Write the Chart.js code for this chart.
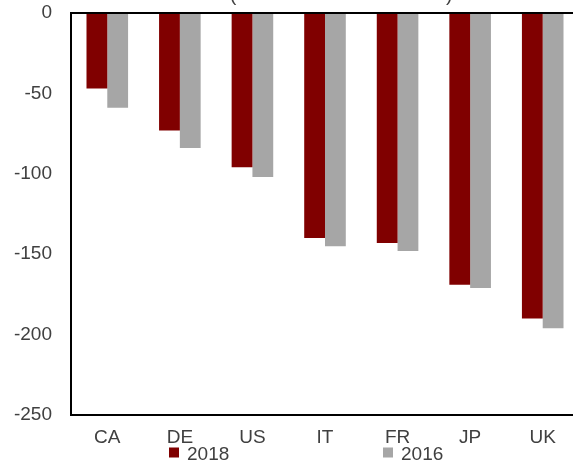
<!DOCTYPE html>
<html>
<head>
<meta charset="utf-8">
<script src="https://cdn.jsdelivr.net/npm/chart.js@4/dist/chart.umd.min.js"></script>
<style>
  html, body { margin: 0; padding: 0; overflow: hidden; background: #fff; }
  #wrap { position: absolute; left: 0; top: 0; width: 585px; height: 460px; }
</style>
</head>
<body>
<div id="wrap"><canvas id="c"></canvas></div>
<script>
const categories = ['CA', 'DE', 'US', 'IT', 'FR', 'JP', 'UK'];
const values2018 = [-47, -73, -96, -140, -143, -169, -190];
const values2016 = [-59, -84, -102, -145, -148, -171, -196];
const yTickValues = [0, -50, -100, -150, -200, -250];
const seriesNames = ['2018', '2016'];
const seriesColors = ['#800000', '#a6a6a6'];

const FONT = "'Liberation Sans', Arial, sans-serif";
const TEXT = '#404040';

const framePlugin = {
  id: 'frame',
  afterDatasetsDraw(chart) {
    const { ctx, chartArea: a } = chart;
    ctx.save();
    ctx.strokeStyle = '#000';
    ctx.lineWidth = 2;
    ctx.strokeRect(a.left, a.top, a.right - a.left, a.bottom - a.top);
    ctx.restore();
  }
};

const legendPlugin = {
  id: 'customLegend',
  afterDraw(chart) {
    const ctx = chart.ctx;
    const starts = [169, 383];
    ctx.save();
    ctx.font = '19px ' + FONT;
    ctx.textBaseline = 'alphabetic';
    chart.data.datasets.forEach((ds, i) => {
      const x = starts[i];
      ctx.fillStyle = ds.backgroundColor;
      ctx.fillRect(x, 447.5, 10, 10);
      ctx.fillStyle = TEXT;
      ctx.fillText(ds.label, x + 18, 460);
    });
    ctx.restore();
  }
};

const titlePlugin = {
  id: 'cutTitle',
  afterDraw(chart) {
    const ctx = chart.ctx;
    ctx.save();
    ctx.font = '19px ' + FONT;
    ctx.fillStyle = TEXT;
    ctx.textBaseline = 'alphabetic';
    ctx.textAlign = 'left';
    ctx.fillText('(', 230, 1);
    ctx.fillText(')', 446, 1);
    ctx.restore();
  }
};

new Chart(document.getElementById('c'), {
  type: 'bar',
  data: {
    labels: categories,
    datasets: [
      { label: seriesNames[0], data: values2018, backgroundColor: seriesColors[0] },
      { label: seriesNames[1], data: values2016, backgroundColor: seriesColors[1] }
    ]
  },
  options: {
    responsive: true,
    maintainAspectRatio: false,
    animation: false,
    devicePixelRatio: 1,
    categoryPercentage: 0.573,
    barPercentage: 1.0,
    layout: { padding: { top: 0, bottom: 0, left: 0, right: 6 } },
    plugins: {
      legend: { display: false },
      title: { display: false },
      tooltip: { enabled: false }
    },
    scales: {
      x: {
        grid: { display: false, drawTicks: false },
        border: { display: false },
        afterFit(scale) {
          scale.height = 45;
          scale.paddingLeft = 0;
          scale.paddingRight = 0;
        },
        ticks: {
          color: TEXT,
          font: { family: FONT, size: 19 },
          padding: 11,
          maxRotation: 0,
          autoSkip: false
        }
      },
      y: {
        min: Math.min(...yTickValues),
        max: Math.max(...yTickValues),
        grid: { display: false, drawTicks: false },
        border: { display: false },
        afterBuildTicks(scale) {
          scale.ticks = yTickValues.map(v => ({ value: v }));
        },
        afterFit(scale) {
          scale.width = 71;
          scale.paddingTop = 13;
          scale.paddingBottom = 0;
        },
        ticks: {
          color: TEXT,
          font: { family: FONT, size: 19 },
          padding: 19
        }
      }
    }
  },
  plugins: [framePlugin, legendPlugin, titlePlugin]
});
</script>
</body>
</html>
